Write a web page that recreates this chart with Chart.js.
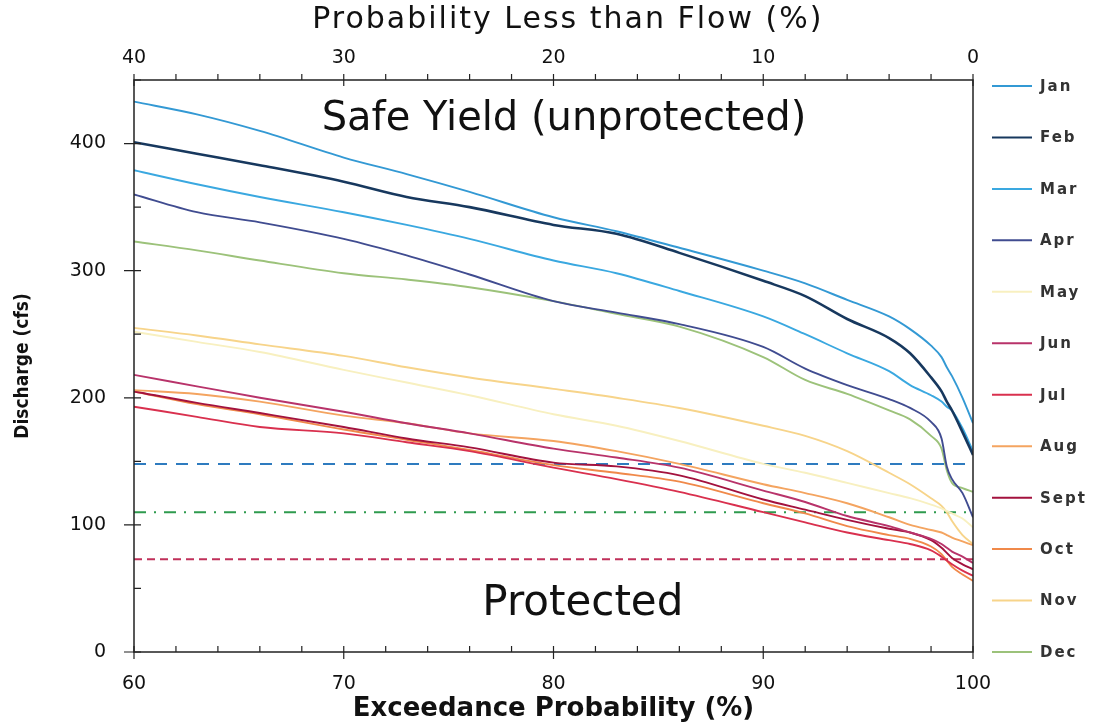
<!DOCTYPE html>
<html>
<head>
<meta charset="utf-8">
<script src="https://cdn.jsdelivr.net/npm/chart.js@4.4.0/dist/chart.umd.min.js"></script>
<style>
  body { margin: 0; background: #fff; }
  #chart { display: block; }
</style>
</head>
<body>
<canvas id="chart" width="1108" height="723"></canvas>
<script>
// exceedance probability (%) where each curve is read
const exceedance = [60, 63, 66, 70, 73, 76, 80, 83, 86, 90, 92, 94, 96, 97, 98, 98.5, 98.75, 99, 99.5, 100];

const months = ["Jan", "Feb", "Mar", "Apr", "May", "Jun", "Jul", "Aug", "Sept", "Oct", "Nov", "Dec"];
const colori = ["#3399d4", "#17385e", "#3aa8e0", "#404c90", "#f8f0c0", "#b8336a",
                "#d9304e", "#f4a460", "#a3123e", "#f0894a", "#f7d48a", "#9cc27a"];

// discharge (cfs)
const jan  = [433, 423, 410, 389, 376, 362, 342, 331, 318, 300, 290, 277, 264, 254, 241, 232, 224, 217, 200, 180];
const feb  = [401, 392, 383, 370, 358, 350, 336, 329, 314, 292, 280, 262, 247, 235, 216, 205, 197, 190, 173, 155];
const mar  = [379, 368, 358, 346, 336, 325, 308, 298, 284, 264, 250, 235, 221, 210, 202, 197, 193, 190, 176, 158];
const apr  = [360, 346, 338, 325, 312, 297, 276, 267, 258, 240, 223, 210, 199, 192, 181, 168, 146, 136, 125, 106];
const may  = [252, 244, 236, 222, 212, 202, 187, 178, 166, 148, 141, 133, 125, 121, 116, 113, 111, 109, 105, 98];
const jun  = [218, 209, 200, 189, 180, 172, 160, 153, 145, 127, 118, 107, 99, 94, 89, 85, 82, 79, 75, 70];
const jul  = [193, 185, 177, 172, 165, 158, 145, 136, 126, 110, 102, 94, 88, 85, 80, 75, 72, 69, 64, 60];
const aug  = [206, 203, 197, 186, 180, 172, 166, 158, 148, 132, 125, 117, 106, 100, 96, 94, 92, 90, 87, 84];
const sept = [205, 196, 188, 177, 168, 161, 149, 146, 139, 120, 112, 104, 97, 94, 88, 82, 78, 74, 69, 65];
const oct  = [205, 195, 187, 175, 167, 159, 147, 141, 134, 117, 109, 99, 92, 89, 83, 77, 72, 67, 61, 56];
const nov  = [255, 249, 242, 233, 224, 216, 207, 200, 192, 178, 170, 158, 141, 132, 121, 115, 110, 103, 92, 85];
const dec  = [323, 316, 308, 298, 293, 287, 276, 266, 256, 232, 214, 203, 190, 183, 170, 160, 143, 133, 129, 126];
const serie = [jan, feb, mar, apr, may, jun, jul, aug, sept, oct, nov, dec];

// horizontal reference flows (cfs)
const soglie = [148, 110, 73];
const coloriSoglie = ["#2e7bbf", "#2e9a4e", "#c0305a"];
const tratteggi = [[12, 9], [12, 8, 2, 8], [8, 5]];

const yTicks = [0, 100, 200, 300, 400];

let datasets = [];
for (let i = 0; i < months.length; i++) {
  datasets.push({
    label: months[i],
    data: exceedance.map((x, k) => ({x: x, y: serie[i][k]})),
    borderColor: colori[i],
    borderWidth: months[i] == "Feb" ? 2.6 : 1.9,
    pointRadius: 0,
    cubicInterpolationMode: 'monotone'
  });
}
for (let i = 0; i < soglie.length; i++) {
  datasets.push({
    label: "soglia" + i,
    data: [{x: 60, y: soglie[i]}, {x: 100, y: soglie[i]}],
    borderColor: coloriSoglie[i],
    borderWidth: 2,
    borderDash: tratteggi[i],
    pointRadius: 0
  });
}

// text written inside the plot
const note = [
  {testo: "Safe Yield (unprotected)", x: 80.5, y: 419, font: "40px 'DejaVu Sans'"},
  {testo: "Protected", x: 81.4, y: 38, font: "42px 'DejaVu Sans'"}
];
const titoloSopra = "Probability Less than Flow (%)";

// frame, tick marks, notes, top title and legend
const extra = {
  id: 'extra',
  afterDraw(chart) {
    const ctx = chart.ctx;
    const a = chart.chartArea;
    const x = chart.scales.x;
    const y = chart.scales.y;
    ctx.save();
    ctx.strokeStyle = '#222';
    ctx.lineWidth = 1.5;
    ctx.strokeRect(a.left, a.top, a.right - a.left, a.bottom - a.top);

    ctx.lineWidth = 1.2;
    ctx.beginPath();
    for (let v = x.min; v <= x.max; v += 2) {
      const px = x.getPixelForValue(v);
      const major = v % 10 === 0;
      ctx.moveTo(px, a.bottom + (major ? 7 : 0));
      ctx.lineTo(px, a.bottom - 6);
      ctx.moveTo(px, a.top + (major ? 6 : 0));
      ctx.lineTo(px, a.top - 6);
    }
    for (let v = 0; v <= y.max; v += 50) {
      const py = y.getPixelForValue(v);
      const major = v % 100 === 0;
      ctx.moveTo(a.left - (major ? 10 : 0), py);
      ctx.lineTo(a.left + 7, py);
    }
    ctx.stroke();

    ctx.fillStyle = '#111';
    ctx.textAlign = 'center';
    ctx.textBaseline = 'middle';
    note.forEach(n => {
      ctx.font = n.font;
      ctx.fillText(n.testo, x.getPixelForValue(n.x), y.getPixelForValue(n.y));
    });

    ctx.letterSpacing = '2px';
    ctx.font = "30px 'DejaVu Sans'";
    ctx.fillText(titoloSopra, a.left + (a.right - a.left) * 0.517, 20);

    // legend
    const passo = (a.bottom - a.top - 6) / (months.length - 1);
    ctx.font = "bold 15px 'DejaVu Sans'";
    ctx.letterSpacing = '2px';
    ctx.textAlign = 'left';
    for (let i = 0; i < months.length; i++) {
      const ly = a.top + 6 + i * passo;
      ctx.strokeStyle = colori[i];
      ctx.lineWidth = 2;
      ctx.beginPath();
      ctx.moveTo(a.right + 19, ly);
      ctx.lineTo(a.right + 59, ly);
      ctx.stroke();
      ctx.fillStyle = '#333';
      ctx.fillText(months[i], a.right + 67, ly + 1);
    }
    ctx.restore();
  }
};

new Chart(document.getElementById('chart'), {
  type: 'line',
  data: {datasets: datasets},
  options: {
    responsive: false,
    animation: false,
    layout: {padding: {left: 0, right: 135, top: 0, bottom: 0}},
    plugins: {legend: {display: false}, tooltip: {enabled: false}},
    scales: {
      x: {
        type: 'linear',
        position: 'bottom',
        min: 60, max: 100,
        ticks: {stepSize: 10, padding: 21, color: '#111', font: {family: 'DejaVu Sans', size: 19}},
        grid: {display: false, drawTicks: false},
        border: {display: false},
        title: {display: true, text: 'Exceedance Probability (%)', color: '#111',
                font: {family: 'DejaVu Sans', size: 26, weight: 'bold'}, padding: {top: 0, bottom: -2}},
        afterFit: s => { s.height = 71; }
      },
      xTop: {
        type: 'linear',
        position: 'top',
        min: 60, max: 100,
        ticks: {stepSize: 10, padding: 11, color: '#111', font: {family: 'DejaVu Sans', size: 19},
                callback: v => 100 - v},
        grid: {display: false, drawTicks: false},
        border: {display: false},
        afterFit: s => { s.height = 80; }
      },
      y: {
        type: 'linear',
        min: 0, max: 450,
        ticks: {padding: 28, color: '#111', font: {family: 'DejaVu Sans', size: 19}},
        afterBuildTicks: s => { s.ticks = yTicks.map(v => ({value: v})); },
        grid: {display: false, drawTicks: false},
        border: {display: false},
        title: {display: true, text: 'Discharge (cfs)', color: '#111',
                font: {family: "'Liberation Sans Narrow', 'DejaVu Sans Condensed', sans-serif", size: 19, weight: 'bold'},
                padding: {top: 12, bottom: 0}},
        afterFit: s => { s.width = 134; }
      }
    }
  },
  plugins: [extra]
});
</script>
</body>
</html>
